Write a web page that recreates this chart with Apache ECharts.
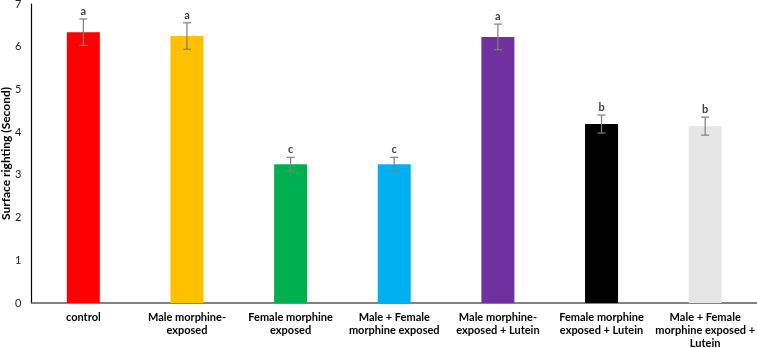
<!DOCTYPE html>
<html><head><meta charset="utf-8">
<script src="https://cdn.jsdelivr.net/npm/echarts@6/dist/echarts.min.js"></script>
<style>html,body{margin:0;padding:0;background:#fff}#c{width:757px;height:348px}</style>
</head><body><div id="c"></div>
<script>
const categories = ["control", "Male morphine-\nexposed", "Female morphine\nexposed", "Male + Female\nmorphine exposed", "Male morphine-\nexposed + Lutein", "Female morphine\nexposed + Lutein", "Male + Female\nmorphine exposed +\nLutein"];
const means = [6.34, 6.25, 3.25, 3.25, 6.23, 4.19, 4.14];
const errors = [0.31, 0.31, 0.16, 0.16, 0.30, 0.21, 0.21];
const letters = ["a", "a", "c", "c", "a", "b", "b"];
const colors = ["#FF0000", "#FFC000", "#00B050", "#00B0F0", "#7030A0", "#000000", "#E7E6E6"];
const yTicks = [0, 1, 2, 3, 4, 5, 6, 7];

const chart = echarts.init(document.getElementById('c'), null, {renderer: 'canvas'});
const FONT = 'Lato, "Open Sans", sans-serif';
chart.setOption({
  animation: false,
  grid: {left: 31.5, right: 0, top: 4, bottom: 45, containLabel: false, outerBoundsMode: 'none'},
  xAxis: {
    type: 'category', data: categories,
    axisLine: {lineStyle: {color: '#595959', width: 1.5}},
    axisTick: {show: false},
    axisLabel: {interval: 0, color: '#000', fontFamily: FONT, fontWeight: 'bold', fontSize: 11, lineHeight: 13, margin: 8}
  },
  yAxis: {
    type: 'value', min: yTicks[0], max: yTicks[yTicks.length - 1], interval: 1,
    name: 'Surface righting (Second)', nameLocation: 'middle', nameGap: 19, nameMoveOverlap: false,
    nameTextStyle: {color: '#000', fontFamily: FONT, fontWeight: 'bold', fontSize: 12},
    axisLine: {show: true, lineStyle: {color: '#000', width: 1.2}},
    axisTick: {show: false},
    splitLine: {show: false},
    axisLabel: {color: '#222', fontFamily: FONT, fontSize: 11, margin: 10}
  },
  series: [
    {
      type: 'bar', barWidth: 33,
      data: means.map((v, i) => ({value: v, itemStyle: {color: colors[i]}}))
    },
    {
      type: 'custom',
      data: means.map((v, i) => [i, v, errors[i], letters[i]]),
      renderItem: function (params, api) {
        const x = api.value(0), m = api.value(1), e = api.value(2);
        const top = api.coord([x, m + e]);
        const bot = api.coord([x, m - e]);
        const hw = 4;
        const st = {stroke: '#7F7F7F', lineWidth: 1.2};
        return {
          type: 'group',
          children: [
            {type: 'line', shape: {x1: top[0], y1: top[1], x2: bot[0], y2: bot[1]}, style: st},
            {type: 'line', shape: {x1: top[0] - hw, y1: top[1], x2: top[0] + hw, y2: top[1]}, style: st},
            {type: 'line', shape: {x1: bot[0] - hw, y1: bot[1], x2: bot[0] + hw, y2: bot[1]}, style: st},
            {type: 'text', style: {text: letters[params.dataIndex], x: top[0], y: top[1] - 2, textAlign: 'center', textVerticalAlign: 'bottom', fill: '#404040', font: 'bold 11px ' + FONT}}
          ]
        };
      },
      z: 5
    }
  ]
});
</script></body></html>
